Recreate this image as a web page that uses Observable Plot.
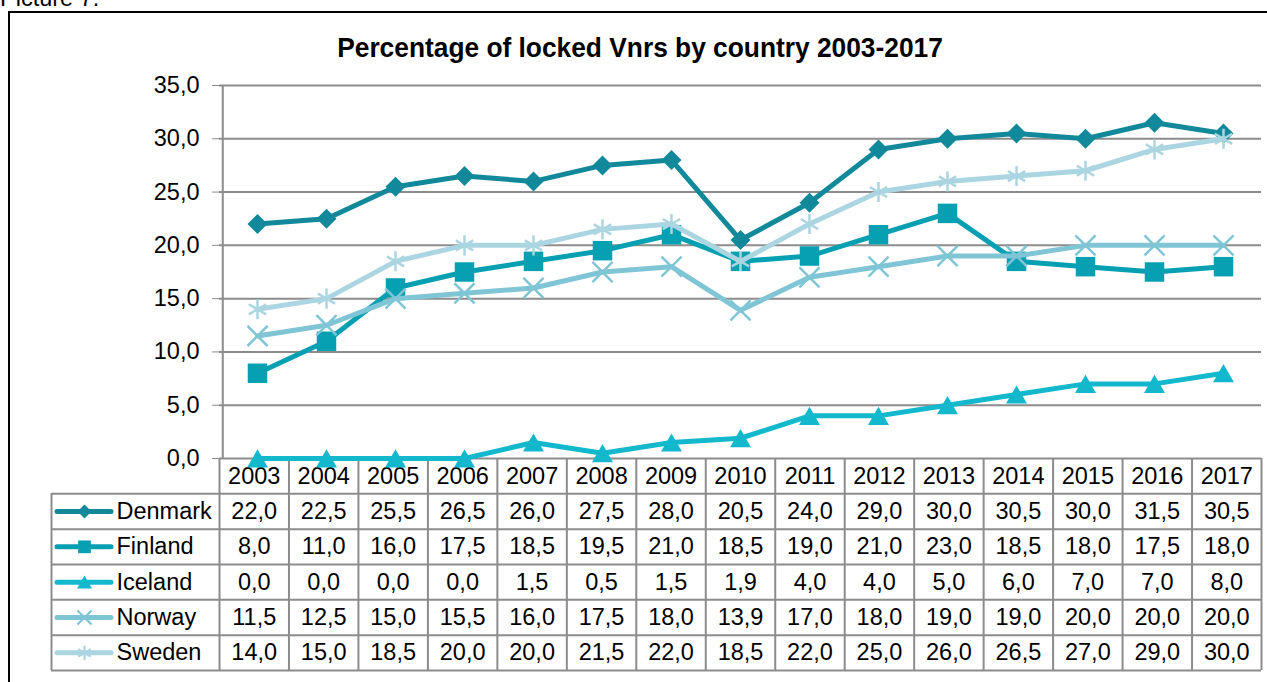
<!DOCTYPE html>
<html><head><meta charset="utf-8">
<script src="https://cdn.jsdelivr.net/npm/d3@7"></script>
<script src="https://cdn.jsdelivr.net/npm/@observablehq/plot@0.6"></script>
<style>
body{margin:0;background:#fff;font-family:"Liberation Sans",Arial,sans-serif;}
#root{position:relative;width:1267px;height:682px;overflow:hidden;background:#fff;}
#pic{position:absolute;left:0;top:-13.5px;font-size:23.5px;line-height:1;color:#000;white-space:nowrap;}
#frame{position:absolute;left:8px;top:11px;width:1320px;height:720px;border:2px solid #000;box-sizing:border-box;}
#title{position:absolute;left:640px;top:34.3px;transform:translateX(-50%) scaleX(0.94);transform-origin:center;font-family:"Liberation Sans",Arial,sans-serif;font-weight:bold;font-size:28px;line-height:1;color:#000;white-space:nowrap;}
#table,#chart{position:absolute;left:0;}
#table{top:457px;}
#chart{top:0;}
#chart svg text{fill:#000;}
</style></head><body><div id="root">
<div id="frame"></div>
<div id="pic">Picture 7.</div>
<div id="table"></div>
<div id="chart"></div>
<div id="title">Percentage of locked Vnrs by country 2003-2017</div>
</div>
<script>
const years = ["2003","2004","2005","2006","2007","2008","2009","2010","2011","2012","2013","2014","2015","2016","2017"];
const countries = ["Denmark","Finland","Iceland","Norway","Sweden"];
const denmark = [22.0,22.5,25.5,26.5,26.0,27.5,28.0,20.5,24.0,29.0,30.0,30.5,30.0,31.5,30.5];
const finland = [8.0,11.0,16.0,17.5,18.5,19.5,21.0,18.5,19.0,21.0,23.0,18.5,18.0,17.5,18.0];
const iceland = [0.0,0.0,0.0,0.0,1.5,0.5,1.5,1.9,4.0,4.0,5.0,6.0,7.0,7.0,8.0];
const norway  = [11.5,12.5,15.0,15.5,16.0,17.5,18.0,13.9,17.0,18.0,19.0,19.0,20.0,20.0,20.0];
const sweden  = [14.0,15.0,18.5,20.0,20.0,21.5,22.0,18.5,22.0,25.0,26.0,26.5,27.0,29.0,30.0];
const yTicks = [0,5,10,15,20,25,30,35];

const seriesValues = [denmark, finland, iceland, norway, sweden];
const styles = [
  {color:"#11899a", symbol:"diamond2", r:9,   filled:true,  dy:0,  lr:6.3, ldy:0},
  {color:"#079fb2", symbol:"square",   r:11,  filled:true,  dy:0,  lr:7.2, ldy:0},
  {color:"#14b8cd", symbol:"triangle", r:7.8, filled:true,  dy:3,  lr:5.6, ldy:2},
  {color:"#80c5d5", symbol:"times",    r:9.2, filled:false, dy:0,  lr:6.5, ldy:0},
  {color:"#abd6e1", symbol:"asterisk", r:9.5, filled:false, dy:0,  lr:6.8, ldy:0}
];
const fmt = v => v.toFixed(1).replace(".", ",");
const rows = countries.flatMap((c, ci) => years.map((y, i) => ({country: c, ci, year: y, yi: i, value: seriesValues[ci][i]})));

const W = 1267, ML = 219, MR = 6;
const step = (W - ML - MR) / years.length;
const grid = "#8c8c8c";
const font = "Liberation Sans, Arial, sans-serif";

// Chart
const chartMarks = [
  Plot.ruleY(yTicks, {stroke: grid, strokeWidth: 2}),
  Plot.ruleX([years[0]], {dx: -step / 2, y1: 0, y2: 35, stroke: grid, strokeWidth: 2})
];
countries.forEach((c, ci) => {
  const s = styles[ci];
  const data = rows.filter(d => d.country === c);
  chartMarks.push(Plot.line(data, {x: "year", y: "value", stroke: s.color, strokeWidth: 5, strokeLinejoin: "round", strokeLinecap: "round"}));
  chartMarks.push(Plot.dot(data, s.filled
    ? {x: "year", y: "value", symbol: () => s.symbol, r: s.r, fill: s.color, stroke: "none", dy: s.dy}
    : {x: "year", y: "value", symbol: () => s.symbol, r: s.r, fill: "none", stroke: s.color, strokeWidth: 2.5, dy: s.dy}));
});
const chart = Plot.plot({
  width: W, height: 475,
  marginLeft: ML, marginRight: MR, marginTop: 85, marginBottom: 17,
  style: {background: "transparent", overflow: "visible", fontSize: "23.5px", fontFamily: font, color: grid},
  x: {type: "point", domain: years, padding: 0.5, axis: null},
  y: {domain: [0, 35], ticks: yTicks, tickFormat: fmt, tickSize: 7, tickPadding: 13, label: null, line: false},
  symbol: {type: "identity"},
  marks: chartMarks
});
document.getElementById("chart").appendChild(chart);

// Table
const LC = -(ML - 51) / step; // left edge of label column
const tableMarks = [
  Plot.ruleY([1,2,3,4,5,6], {x1: LC, x2: years.length, stroke: grid, strokeWidth: 2}),
  Plot.ruleX(d3.range(0, years.length + 1), {y1: 0, y2: 6, stroke: grid, strokeWidth: 2}),
  Plot.ruleX([LC], {y1: 1, y2: 6, stroke: grid, strokeWidth: 2}),
  Plot.text(years, {x: (d, i) => i + 0.5, y: 0.5, text: d => d, fill: "#000"}),
  Plot.text(rows, {x: d => d.yi + 0.5, y: d => d.ci + 1.5, text: d => fmt(d.value), fill: "#000"}),
  Plot.text(countries, {x: (116 - ML) / step, y: (d, i) => i + 1.5, text: d => d, textAnchor: "start", fill: "#000"}),
  Plot.ruleY(countries, {y: (d, i) => i + 1.5, x1: (57 - ML) / step, x2: (111 - ML) / step, stroke: (d, i) => styles[i].color, strokeWidth: 5, strokeLinecap: "round"})
];
countries.forEach((c, ci) => {
  const s = styles[ci];
  tableMarks.push(Plot.dot([c], s.filled
    ? {x: (84 - ML) / step, y: ci + 1.5, symbol: () => s.symbol, r: s.lr, fill: s.color, stroke: "none", dy: s.ldy}
    : {x: (84 - ML) / step, y: ci + 1.5, symbol: () => s.symbol, r: s.lr, fill: "none", stroke: s.color, strokeWidth: 2.2, dy: s.ldy}));
});
const table = Plot.plot({
  width: W, height: 214,
  marginLeft: ML, marginRight: MR, marginTop: 1, marginBottom: 1,
  style: {background: "transparent", overflow: "visible", fontSize: "23.5px", fontFamily: font, color: "#000"},
  x: {type: "linear", domain: [0, years.length], axis: null},
  y: {type: "linear", domain: [0, 6], reverse: true, axis: null},
  symbol: {type: "identity"},
  marks: tableMarks
});
document.getElementById("table").appendChild(table);
</script>
</body></html>
